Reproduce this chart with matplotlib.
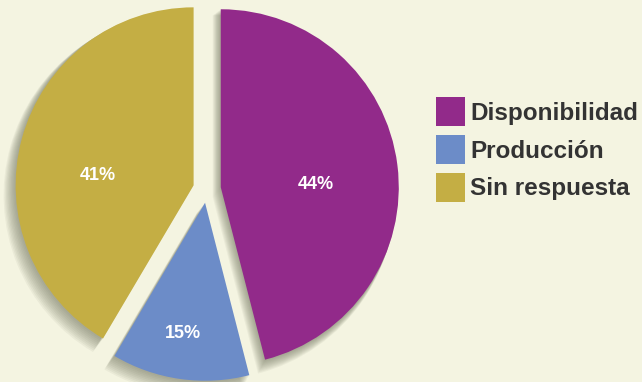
import matplotlib.pyplot as plt

categories = ["Disponibilidad", "Producción", "Sin respuesta"]
wedge_shares = [46.0, 12.5, 41.5]
pct_labels = ["44%", "15%", "41%"]
colors = ["#922A8A", "#6C8CC8", "#C4AE44"]
label_xy = [(0.609, 0.028), (-0.134, -0.81), (-0.615, 0.078)]

bg = "#F4F4E1"
r_px = 178.0
cx_px, cy_px = 207.0, 189.0
W, H = 642, 382

plt.rcParams["font.family"] = ["Liberation Sans", "DejaVu Sans"]

fig = plt.figure(figsize=(W / 100, H / 100), dpi=100, facecolor=bg)
ax = fig.add_axes([0, 0, 1, 1])
ax.set_facecolor(bg)

explode = [0.078] * len(wedge_shares)

# soft shadow, built from several faint offset copies
for d in range(1, 11):
    off = d / r_px
    ax.pie(wedge_shares, explode=explode, startangle=90, counterclock=False,
           colors=["#676b55"] * 3, center=(-off * 0.8, -off),
           radius=1 + d * 0.4 / r_px,
           wedgeprops=dict(alpha=0.07, linewidth=0, zorder=1))

wedges, _ = ax.pie(
    wedge_shares, explode=explode, startangle=90, counterclock=False,
    colors=colors, wedgeprops=dict(linewidth=0, zorder=3),
)
for txt, (x, y) in zip(pct_labels, label_xy):
    ax.text(x, y, txt, color="white", fontweight="bold", fontsize=13,
            ha="center", va="center", zorder=5)

ax.set_aspect("auto")
ax.set_xlim(-cx_px / r_px, (W - cx_px) / r_px)
ax.set_ylim(-(H - cy_px) / r_px, cy_px / r_px)
ax.axis("off")

leg = ax.legend(wedges, categories, loc="upper left",
                bbox_to_anchor=(436 / W, 1 - 97 / H),
                frameon=False,
                prop=dict(weight="bold", size=17.5),
                handlelength=1.2, handleheight=1.47,
                handletextpad=0.2, labelspacing=0.36,
                borderaxespad=0, borderpad=0)
for t in leg.get_texts():
    t.set_color("#333333")

fig.savefig("out.png", dpi=100, facecolor=bg)
